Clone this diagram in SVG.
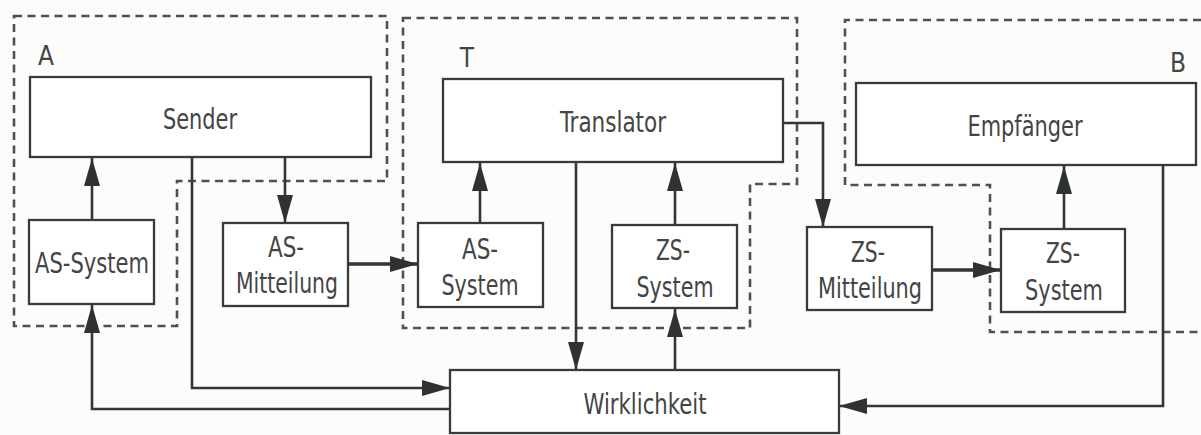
<svg xmlns="http://www.w3.org/2000/svg" width="1201" height="435" viewBox="0 0 1201 435">
  <style>
    .bg { fill: #fcfcfa; }
    .region { fill: none; stroke: #505050; stroke-width: 2.6; stroke-dasharray: 8 5.5; }
    .box { fill: #ffffff; stroke: #3a3a3a; stroke-width: 2.3; }
    .lbl { font-family: "Liberation Sans Narrow", "DejaVu Sans Condensed", "Liberation Sans", sans-serif; font-size: 28px; fill: #444444; text-anchor: middle; }
    .tag { font-family: "Liberation Sans Narrow", "DejaVu Sans Condensed", "Liberation Sans", sans-serif; font-size: 26px; fill: #444444; text-anchor: middle; }
    .conn { fill: none; stroke: #353535; stroke-width: 2.6; }
    .thick { stroke-width: 3.4; }
    .arr { marker-end: url(#ah); }
  </style>
  <defs>
    <marker id="ah" markerUnits="userSpaceOnUse" markerWidth="30" markerHeight="18" refX="28" refY="8" orient="auto">
      <path d="M0,0 L28,8 L0,16 Z" fill="#2f332f"/>
    </marker>
  </defs>

  <rect class="bg" x="0" y="0" width="1201" height="435"/>

  <g id="regions">
    <polygon id="region-A" class="region" points="14,16 387,16 387,181 177,181 177,326 14,326"/>
    <polygon id="region-T" class="region" points="403,18 797,18 797,184 750,184 750,328 403,328"/>
    <polyline id="region-B" class="region" points="1201,20 845,20 845,185 990,185 990,332 1201,332"/>
    <text class="tag" x="46" y="65">A</text>
    <text class="tag" x="467" y="67">T</text>
    <text class="tag" x="1178" y="72">B</text>
  </g>

  <g id="connectors">
    <!-- AS-System (A) -> Sender -->
    <line class="conn arr" x1="92" y1="220" x2="92" y2="158"/>
    <!-- Sender -> AS-Mitteilung -->
    <line class="conn arr" x1="285" y1="157" x2="285" y2="223"/>
    <!-- Sender -> Wirklichkeit -->
    <polyline class="conn arr" points="192,157 192,388 450,388"/>
    <!-- Wirklichkeit -> AS-System (A) -->
    <polyline class="conn arr" points="450,409 92,409 92,305"/>
    <!-- AS-Mitteilung -> AS-System (T) -->
    <line class="conn thick arr" x1="348" y1="264" x2="418" y2="264"/>
    <!-- AS-System (T) -> Translator -->
    <line class="conn arr" x1="480" y1="223" x2="480" y2="163"/>
    <!-- ZS-System (T) -> Translator -->
    <line class="conn arr" x1="675" y1="225" x2="675" y2="163"/>
    <!-- Translator -> Wirklichkeit -->
    <line class="conn arr" x1="576" y1="162" x2="576" y2="370"/>
    <!-- Wirklichkeit -> ZS-System (T) -->
    <line class="conn arr" x1="675" y1="370" x2="675" y2="309"/>
    <!-- Translator -> ZS-Mitteilung -->
    <polyline class="conn arr" points="783,123 823,123 823,227"/>
    <!-- ZS-Mitteilung -> ZS-System (B) -->
    <line class="conn thick arr" x1="932" y1="270" x2="1001" y2="270"/>
    <!-- ZS-System (B) -> Empfänger -->
    <line class="conn arr" x1="1064" y1="229" x2="1064" y2="166"/>
    <!-- Empfänger -> Wirklichkeit -->
    <polyline class="conn arr" points="1163,165 1163,406 839,406"/>
  </g>

  <g id="sender">
    <rect class="box" x="30" y="77" width="341" height="80"/>
    <text class="lbl" x="200" y="129" textLength="74" lengthAdjust="spacingAndGlyphs">Sender</text>
  </g>

  <g id="as-system-a">
    <rect class="box" x="29" y="220" width="125" height="84"/>
    <text class="lbl" x="92" y="273" textLength="114" lengthAdjust="spacingAndGlyphs">AS-System</text>
  </g>

  <g id="as-mitteilung">
    <rect class="box" x="223" y="223" width="125" height="83"/>
    <text class="lbl" x="286" y="257" textLength="36" lengthAdjust="spacingAndGlyphs">AS-</text>
    <text class="lbl" x="287" y="293" textLength="102" lengthAdjust="spacingAndGlyphs">Mitteilung</text>
  </g>

  <g id="translator">
    <rect class="box" x="443" y="79" width="340" height="83"/>
    <text class="lbl" x="613" y="132" textLength="106" lengthAdjust="spacingAndGlyphs">Translator</text>
  </g>

  <g id="as-system-t">
    <rect class="box" x="418" y="223" width="125" height="84"/>
    <text class="lbl" x="480" y="259" textLength="36" lengthAdjust="spacingAndGlyphs">AS-</text>
    <text class="lbl" x="480" y="295" textLength="77" lengthAdjust="spacingAndGlyphs">System</text>
  </g>

  <g id="zs-system-t">
    <rect class="box" x="612" y="225" width="125" height="83"/>
    <text class="lbl" x="673" y="260" textLength="34" lengthAdjust="spacingAndGlyphs">ZS-</text>
    <text class="lbl" x="675" y="297" textLength="77" lengthAdjust="spacingAndGlyphs">System</text>
  </g>

  <g id="empfaenger">
    <rect class="box" x="856" y="83" width="340" height="82"/>
    <text class="lbl" x="1025" y="136" textLength="115" lengthAdjust="spacingAndGlyphs">Empfänger</text>
  </g>

  <g id="zs-mitteilung">
    <rect class="box" x="807" y="227" width="125" height="83"/>
    <text class="lbl" x="868" y="262" textLength="34" lengthAdjust="spacingAndGlyphs">ZS-</text>
    <text class="lbl" x="870" y="298" textLength="104" lengthAdjust="spacingAndGlyphs">Mitteilung</text>
  </g>

  <g id="zs-system-b">
    <rect class="box" x="1001" y="229" width="124" height="83"/>
    <text class="lbl" x="1063" y="263" textLength="34" lengthAdjust="spacingAndGlyphs">ZS-</text>
    <text class="lbl" x="1064" y="300" textLength="78" lengthAdjust="spacingAndGlyphs">System</text>
  </g>

  <g id="wirklichkeit">
    <rect class="box" x="450" y="370" width="389" height="63"/>
    <text class="lbl" x="645" y="414" textLength="123" lengthAdjust="spacingAndGlyphs">Wirklichkeit</text>
  </g>
</svg>
